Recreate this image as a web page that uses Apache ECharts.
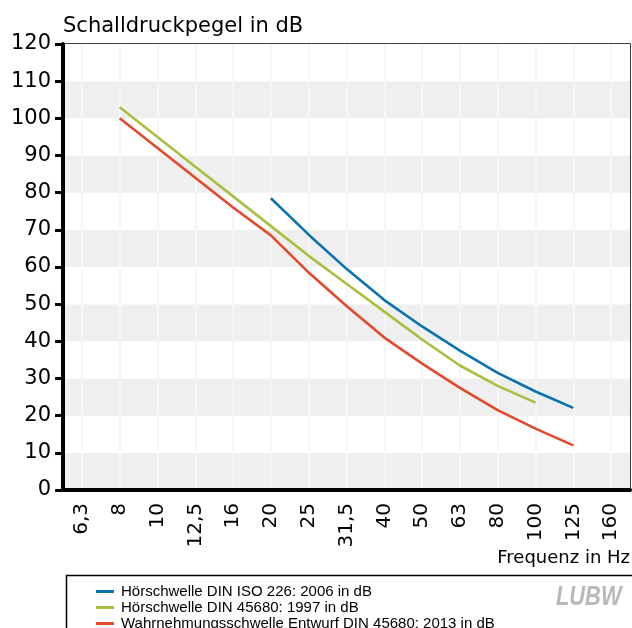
<!DOCTYPE html>
<html>
<head>
<meta charset="utf-8">
<script src="https://cdn.jsdelivr.net/npm/echarts@6/dist/echarts.min.js"></script>
<style>
  html, body { margin: 0; padding: 0; background: #fff; }
  #chart { width: 632px; height: 628px; }
</style>
</head>
<body>
<div id="chart"></div>
<script>
// Frequenz-Kategorien (Terzbänder)
const categories = ['6,3', '8', '10', '12,5', '16', '20', '25', '31,5', '40', '50', '63', '80', '100', '125', '160'];

// Hörschwelle DIN ISO 226: 2006
const isoValues = [null, null, null, null, null, 78.5, 68.7, 59.5, 51.1, 44.0, 37.5, 31.5, 26.5, 22.1, null];
// Hörschwelle DIN 45680: 1997
const din1997Values = [null, 103, 95, 87, 79, 71, 63, 55.5, 48, 40.5, 33.5, 28, 23.5, null, null];
// Wahrnehmungsschwelle Entwurf DIN 45680: 2013
const din2013Values = [null, 100, 92, 84, 76, 68.5, 58.5, 49.5, 41, 34, 27.5, 21.5, 16.5, 12, null];

const seriesNames = [
  'Hörschwelle DIN ISO 226: 2006 in dB',
  'Hörschwelle DIN 45680: 1997 in dB',
  'Wahrnehmungsschwelle Entwurf DIN 45680: 2013 in dB'
];

const font = 'DejaVu Sans';

let myChart = echarts.init(document.getElementById('chart'));

function line(name, data, color) {
  return {
    name: name,
    type: 'line',
    data: data,
    showSymbol: false,
    symbol: 'none',
    connectNulls: false,
    lineStyle: { color: color, width: 2.6 },
    itemStyle: { color: color },
    z: 5
  };
}

// eine Legende je Zeile, damit nichts umbricht
function legendRow(name, top) {
  return {
    orient: 'horizontal',
    left: 91,
    top: top,
    icon: 'rect',
    itemWidth: 18,
    itemHeight: 3,
    itemGap: 0,
    textStyle: { fontFamily: 'Liberation Sans', fontSize: 15, color: '#000', padding: [0, 0, 0, 2] },
    data: [name]
  };
}

let option = {
  animation: false,
  title: {
    text: 'Schalldruckpegel in dB',
    left: 58,
    top: 11,
    textStyle: { fontFamily: font, fontSize: 21, fontWeight: 'normal', color: '#000' }
  },
  grid: {
    left: 63,
    right: 2,
    top: 44,
    bottom: 138,
    show: true,
    borderColor: '#000',
    borderWidth: 1.5,
    backgroundColor: '#fff'
  },
  legend: [
    legendRow(seriesNames[0], 579),
    legendRow(seriesNames[1], 595),
    legendRow(seriesNames[2], 611)
  ],
  xAxis: {
    type: 'category',
    data: categories,
    boundaryGap: true,
    axisLine: { lineStyle: { color: '#000', width: 4 } },
    axisTick: { alignWithLabel: true, interval: 0, length: 9, lineStyle: { color: '#000', width: 3 } },
    axisLabel: {
      interval: 0,
      rotate: 90,
      margin: 13,
      fontFamily: font,
      fontSize: 20,
      color: '#000'
    },
    splitLine: { show: true, interval: 0, alignWithLabel: true, lineStyle: { color: '#f6f6f6', width: 2 } }
  },
  yAxis: {
    type: 'value',
    min: 0,
    max: 120,
    interval: 10,
    axisLine: { show: true, lineStyle: { color: '#000', width: 4 } },
    axisTick: { show: true, length: 8, lineStyle: { color: '#000', width: 3 } },
    axisLabel: { margin: 12, fontFamily: font, fontSize: 21, color: '#000' },
    splitLine: { show: false },
    splitArea: { show: true, areaStyle: { color: ['#efefef', '#ffffff'] } }
  },
  graphic: [
    {
      type: 'text',
      right: 2,
      top: 549,
      style: { text: 'Frequenz in Hz', font: '18px "DejaVu Sans"', fill: '#000' }
    },
    {
      type: 'rect',
      left: 64,
      top: 573,
      shape: { width: 620, height: 100 },
      style: { fill: 'none', stroke: '#000', lineWidth: 1.5 }
    },
    {
      type: 'text',
      x: 556,
      y: 583,
      scaleX: 0.78,
      style: { text: 'LUBW', font: 'italic bold 28px "Liberation Sans"', fill: '#b8b8b8' }
    }
  ],
  series: [
    line(seriesNames[0], isoValues, '#0a73b0'),
    line(seriesNames[1], din1997Values, '#a8bf40'),
    line(seriesNames[2], din2013Values, '#e5492c')
  ]
};

myChart.setOption(option);

window.addEventListener('resize', () => {
  myChart.resize();
});
</script>
</body>
</html>
